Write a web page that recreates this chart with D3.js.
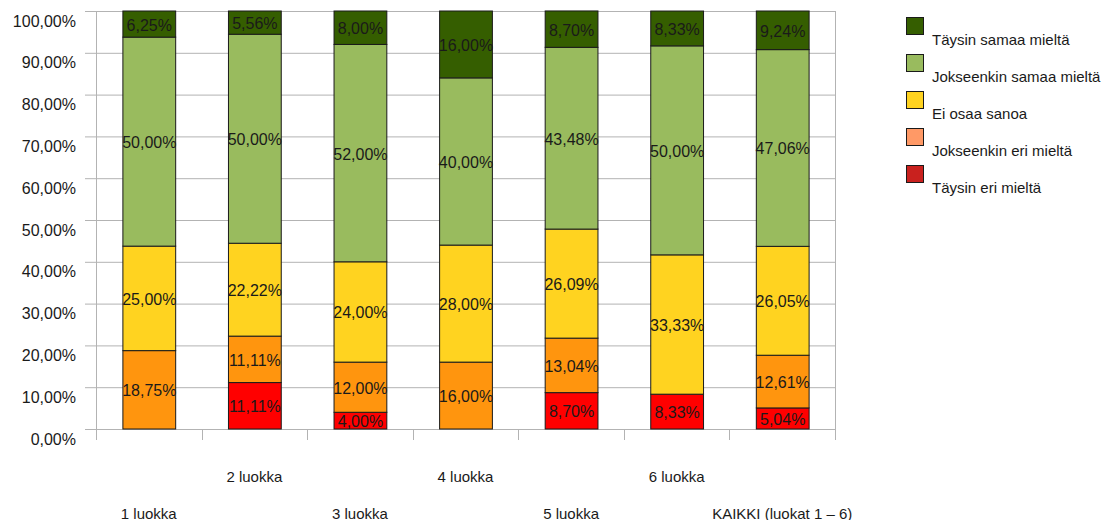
<!DOCTYPE html>
<html><head><meta charset="utf-8">
<script src="https://cdn.jsdelivr.net/npm/d3@7"></script>
<style>body{margin:0;background:#fff}svg{display:block}text{font-family:"Liberation Sans",Arial,sans-serif;fill:#1a1a1a}</style>
</head><body><svg id="c" width="1109" height="520"></svg>
<script>
const categories = ["1 luokka","2 luokka","3 luokka","4 luokka","5 luokka","6 luokka","KAIKKI (luokat 1 – 6)"];
const seriesNames = ["Täysin eri mieltä","Jokseenkin eri mieltä","Ei osaa sanoa","Jokseenkin samaa mieltä","Täysin samaa mieltä"];
const taysinEri = [0, 11.11, 4.00, 0, 8.70, 8.33, 5.04];
const jokseenkinEri = [18.75, 11.11, 12.00, 16.00, 13.04, 0, 12.61];
const eiOsaa = [25.00, 22.22, 24.00, 28.00, 26.09, 33.33, 26.05];
const jokseenkinSamaa = [50.00, 50.00, 52.00, 40.00, 43.48, 50.00, 47.06];
const taysinSamaa = [6.25, 5.56, 8.00, 16.00, 8.70, 8.33, 9.24];
const barColors = ["#ff0000","#ff950e","#ffd320","#99bb5e","#355e00"];
const legendColors = ["#c9211e","#ff9966","#ffd320","#99bb5e","#355e00"];
const yTicks = [0,10,20,30,40,50,60,70,80,90,100];

const svg = d3.select("#c");
const L=96, R=835, T=11, B=429;
const x = d3.scaleBand().domain(categories).range([L,R]).paddingInner(0.5).paddingOuter(0.25);
const y = d3.scaleLinear().domain([0,100]).range([B,T]);
const fmt = v => v.toFixed(2).replace(".", ",") + "%";

// gridlines
svg.append("g").selectAll("line").data(yTicks).join("line")
  .attr("x1",L-11).attr("x2",R).attr("y1",d=>y(d)+0.5).attr("y2",d=>y(d)+0.5)
  .attr("stroke","#b3b3b3").attr("stroke-width",1);
// y labels
svg.append("g").selectAll("text").data(yTicks).join("text")
  .attr("x",76).attr("y",d=>y(d)+10).attr("text-anchor","end").attr("dominant-baseline","central")
  .attr("font-size",16).text(d=>fmt(d));
// vertical frame lines & category ticks
const step = x.step();
const bounds = d3.range(categories.length+1).map(i=>L+i*step);
svg.append("g").selectAll("line").data(bounds).join("line")
  .attr("x1",d=>Math.round(d)+0.5).attr("x2",d=>Math.round(d)+0.5)
  .attr("y1",(d,i)=> (i===0||i===categories.length)?T:B).attr("y2",440)
  .attr("stroke","#b3b3b3");

// stacked data
const rows = categories.map((c,i)=>({cat:c, s0:taysinEri[i], s1:jokseenkinEri[i], s2:eiOsaa[i], s3:jokseenkinSamaa[i], s4:taysinSamaa[i]}));
const stack = d3.stack().keys(["s0","s1","s2","s3","s4"])(rows);
const g = svg.append("g");
stack.forEach((layer,k)=>{
  layer.forEach(d=>{
    const v = d[1]-d[0];
    if (v<=0) return;
    g.append("rect").attr("x",x(d.data.cat)+0.5).attr("width",x.bandwidth())
      .attr("y",y(d[1])).attr("height",y(d[0])-y(d[1]))
      .attr("fill",barColors[k]).attr("stroke","#1a1a1a").attr("stroke-width",1);
  });
});
stack.forEach((layer,k)=>{
  layer.forEach(d=>{
    const v = d[1]-d[0];
    if (v<=0) return;
    g.append("text").attr("x",x(d.data.cat)+x.bandwidth()/2+0.5).attr("y",(y(d[0])+y(d[1]))/2+1)
      .attr("text-anchor","middle").attr("dominant-baseline","central").attr("font-size",16)
      .text(fmt(v));
  });
});
// category labels
svg.append("g").selectAll("text").data(categories).join("text")
  .attr("x",d=>x(d)+x.bandwidth()/2).attr("y",(d,i)=> i%2===0?513:476)
  .attr("text-anchor","middle").attr("dominant-baseline","central").attr("font-size",15).text(d=>d);

// legend (top: Täysin samaa mieltä)
const legOrder = [4,3,2,1,0];
const lg = svg.append("g");
legOrder.forEach((k,i)=>{
  lg.append("rect").attr("x",906.5).attr("y",17.5+i*37).attr("width",17).attr("height",17)
    .attr("fill",legendColors[k]).attr("stroke","#1a1a1a");
  lg.append("text").attr("x",932).attr("y",39+i*37).attr("dominant-baseline","central")
    .attr("font-size",15).text(seriesNames[k]);
});
</script></body></html>
